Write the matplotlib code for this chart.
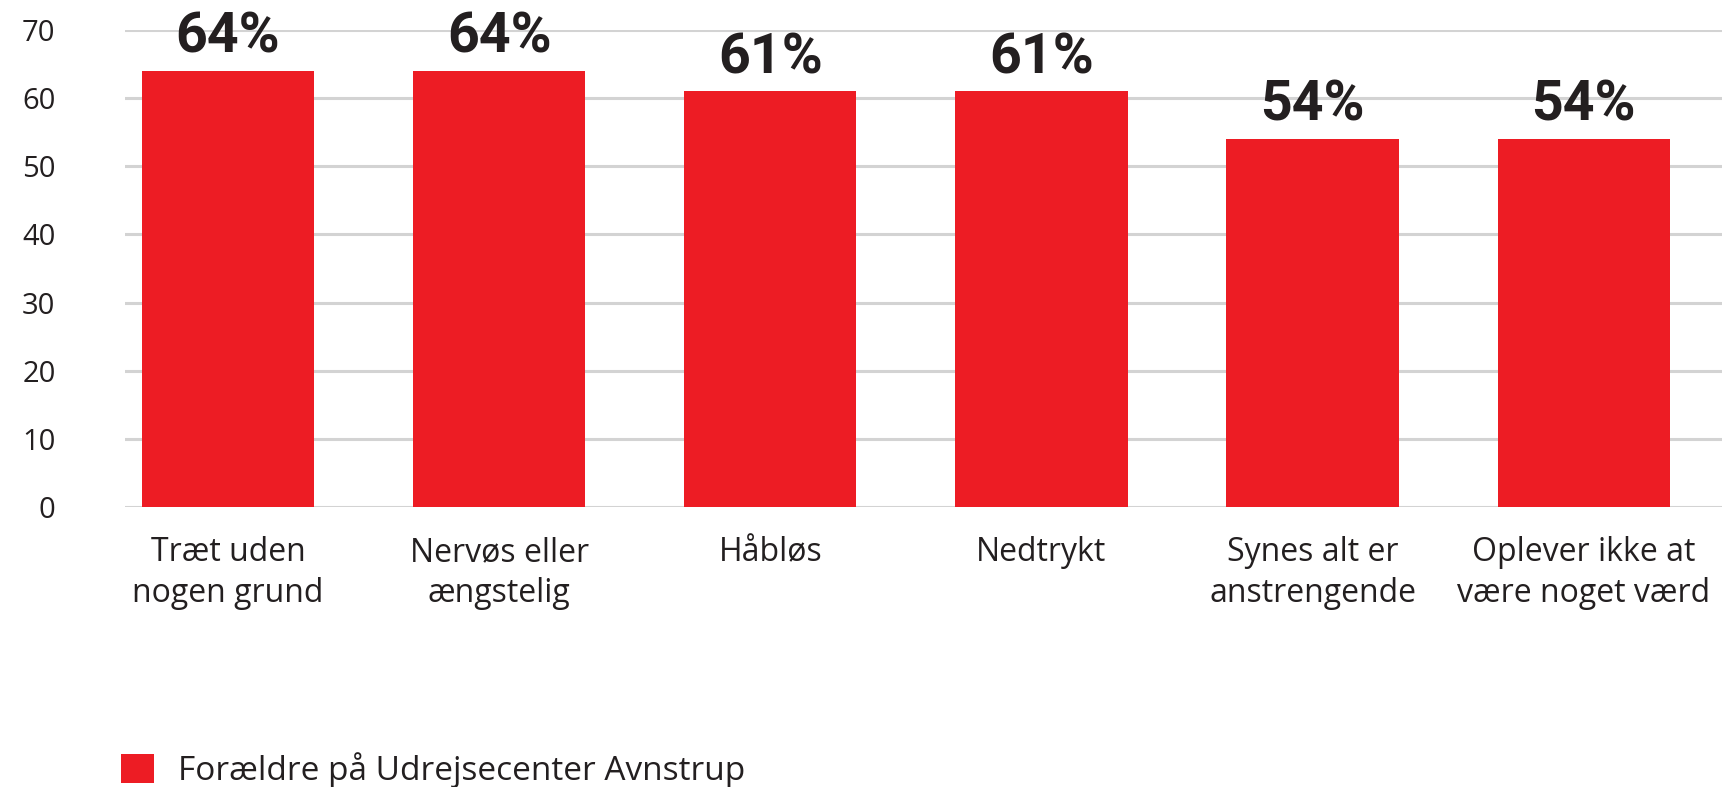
import matplotlib
matplotlib.use("Agg")
import matplotlib.pyplot as plt

categories = ["Træt uden\nnogen grund", "Nervøs eller\nængstelig", "Håbløs",
              "Nedtrykt", "Synes alt er\nanstrengende", "Oplever ikke at\nvære noget værd"]
values = [64, 64, 61, 61, 54, 54]
value_labels = ["64%", "64%", "61%", "61%", "54%", "54%"]
yticks = [0, 10, 20, 30, 40, 50, 60, 70]
series_name = "Forældre på Udrejsecenter Avnstrup"

RED = "#ED1C24"
TXT = "#231F20"
GRID = "#D3D3D3"

W, H = 1727, 787
fig = plt.figure(figsize=(W / 100, H / 100), dpi=100)
left, right, top, bottom = 125, 1722, 30, 507
ax = fig.add_axes([left / W, 1 - bottom / H, (right - left) / W, (bottom - top) / H])

x = list(range(len(categories)))
ax.bar(x, values, width=0.635, color=RED, zorder=3, label=series_name)
ax.set_xlim(-0.38, 5.51)
ax.set_ylim(0, 70)
ax.set_yticks(yticks)
ax.yaxis.grid(True, color=GRID, linewidth=2.2, zorder=0)
ax.set_axisbelow(True)
for s in ax.spines.values():
    s.set_visible(False)

ax.set_xticks(x)
ax.set_xticklabels(categories, fontsize=23, color=TXT, family="Open Sans",
                   linespacing=1.32)
ax.tick_params(axis="x", length=0, pad=21)
ax.tick_params(axis="y", length=0, pad=50, labelsize=21, labelcolor=TXT)
for lab in ax.get_yticklabels():
    lab.set_family("Open Sans")

for xi, v, t in zip(x, values, value_labels):
    ax.annotate(t, (xi, v), xytext=(0, 13), textcoords="offset points",
                ha="center", va="baseline", fontsize=40, fontweight="bold",
                family="Roboto", color=TXT, annotation_clip=False)

leg = fig.legend(loc="center left", bbox_to_anchor=(121 / W, 1 - 770 / H),
                 frameon=False, handlelength=1.0, handleheight=1.0,
                 handletextpad=0.7, borderpad=0, borderaxespad=0,
                 prop={"family": "Open Sans", "size": 24})
for t in leg.get_texts():
    t.set_color(TXT)

fig.savefig("out.png", dpi=100)
